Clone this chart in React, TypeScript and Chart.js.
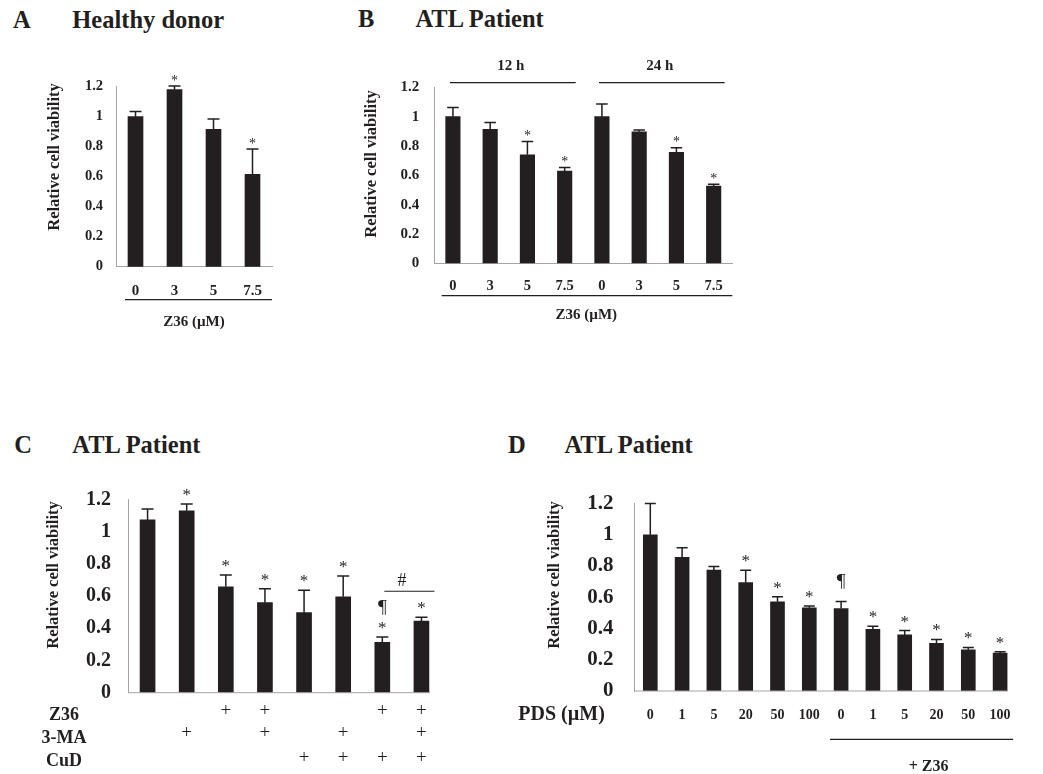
import React, { useEffect, useRef } from "react";
import { Chart, registerables } from "chart.js";

Chart.register(...registerables);

const SERIF = "'Liberation Serif', 'Times New Roman', serif";
const INK = "#231f20";
const AXIS_GRAY = "#a3a3a3";

const yTickLabels = ["0", "0.2", "0.4", "0.6", "0.8", "1", "1.2"];
const yTitleText = "Relative cell viability";
const doseTitle = "Z36 (µM)";

// Panel A — healthy donor
const aDoses = ["0", "3", "5", "7.5"];
const aViability = [1.0, 1.18, 0.915, 0.615];
const aSD = [0.035, 0.025, 0.07, 0.17];
const aSignif = ["", "*", "", "*"];

// Panel B — ATL patient, 12 h / 24 h
const bDoses = ["0", "3", "5", "7.5", "0", "3", "5", "7.5"];
const bViability = [1.0, 0.913, 0.74, 0.629, 1.0, 0.897, 0.757, 0.527];
const bSD = [0.063, 0.047, 0.09, 0.025, 0.086, 0.012, 0.031, 0.012];
const bSignif = ["", "", "*", "*", "", "", "*", "*"];
const bTimeLabels = ["12 h", "24 h"];
const bTimeFirst = [0, 4];
const bTimeLast = [3, 7];

// Panel C — ATL patient, inhibitor combinations
const cConditions = ["ctrl", "3-MA", "Z36", "Z36+3-MA", "CuD", "3-MA+CuD", "Z36+CuD", "Z36+3-MA+CuD"];
const cViability = [1.073, 1.13, 0.658, 0.559, 0.497, 0.596, 0.313, 0.445];
const cSD = [0.068, 0.042, 0.073, 0.087, 0.139, 0.129, 0.033, 0.023];
const cSignif = ["", "*", "*", "*", "*", "*", "*¶", "*"];
const cRowNames = ["Z36", "3-MA", "CuD"];
const cRowZ36 = ["", "", "+", "+", "", "", "+", "+"];
const cRow3MA = ["", "+", "", "+", "", "+", "", "+"];
const cRowCuD = ["", "", "", "", "+", "+", "+", "+"];
const cHashLabel = "#";
const cHashPair = [6, 7];
const cHashLevel = 0.63;

// Panel D — ATL patient, PDS dose with / without Z36
const dPDS = ["0", "1", "5", "20", "50", "100", "0", "1", "5", "20", "50", "100"];
const dViability = [1.0, 0.856, 0.774, 0.695, 0.571, 0.533, 0.528, 0.395, 0.359, 0.306, 0.264, 0.243];
const dSD = [0.2, 0.062, 0.023, 0.079, 0.033, 0.012, 0.045, 0.019, 0.028, 0.024, 0.015, 0.009];
const dSignif = ["", "", "", "*", "*", "*", "¶", "*", "*", "*", "*", "*"];
const dAxisName = "PDS (µM)";
const dGroupLabel = "+ Z36";
const dGroupFirst = 6;
const dGroupLast = 11;

type Box = { x: number; y: number; w: number; h: number };
type Area = { left: number; top: number; right: number; bottom: number };
type Helpers = { xAt: (i: number) => number; yAt: (v: number) => number; a: any };

type PanelCfg = {
  box: Box;
  area: Area;
  labels: string[];
  values: number[];
  sd: number[];
  signif: string[];
  barThickness: number;
  yTickSize: number;
  yTickPad: number;
  xTicks: boolean;
  xTickSize: number;
  xTickPad: number;
  xBorder: boolean;
  yTitle: { x: number; y: number; size: number };
  markSize: number;
  markGap: number;
  markStep: number;
  extra?: (ctx: CanvasRenderingContext2D, h: Helpers, cfg: PanelCfg) => void;
};

const font = (size: number, weight = "bold") => `${weight} ${size}px ${SERIF}`;

function text(
  ctx: CanvasRenderingContext2D,
  s: string,
  x: number,
  y: number,
  f: string,
  align: CanvasTextAlign = "center",
  baseline: CanvasTextBaseline = "middle"
) {
  ctx.font = f;
  ctx.fillStyle = INK;
  ctx.textAlign = align;
  ctx.textBaseline = baseline;
  ctx.fillText(s, x, y);
}

function line(ctx: CanvasRenderingContext2D, x1: number, y1: number, x2: number, y2: number, color = INK, w = 1.2) {
  ctx.beginPath();
  ctx.strokeStyle = color;
  ctx.lineWidth = w;
  ctx.moveTo(x1, y1);
  ctx.lineTo(x2, y2);
  ctx.stroke();
}

const symCenter: Record<string, number> = { "*": 0.47, "¶": 0.24, "#": 0.34, "+": 0.25 };
const symScale: Record<string, number> = { "*": 1, "¶": 1.15, "#": 1.05, "+": 1 };

function symbol(ctx: CanvasRenderingContext2D, s: string, cx: number, cy: number, size: number) {
  const sz = size * (symScale[s] ?? 1);
  ctx.font = font(sz, "normal");
  ctx.fillStyle = INK;
  ctx.textAlign = "center";
  ctx.textBaseline = "alphabetic";
  ctx.fillText(s, cx, cy + (symCenter[s] ?? 0.35) * sz);
}

function PanelChart({ cfg }: { cfg: PanelCfg }) {
  const ref = useRef<HTMLCanvasElement>(null);
  useEffect(() => {
    const canvas = ref.current;
    if (!canvas) return;
    const { box, area } = cfg;
    const yAxisWidth = area.left - box.x;
    const xAxisHeight = box.y + box.h - area.bottom;
    const padTop = area.top - box.y;
    const padRight = box.x + box.w - area.right;

    const overlay = {
      id: "overlay",
      afterDraw(chart: any) {
        const ctx: CanvasRenderingContext2D = chart.ctx;
        const xs = chart.scales.x;
        const ys = chart.scales.y;
        const h: Helpers = {
          xAt: (i) => xs.getPixelForValue(i),
          yAt: (v) => ys.getPixelForValue(v),
          a: chart.chartArea,
        };
        ctx.save();
        const cap = cfg.barThickness - 3;
        cfg.values.forEach((v, i) => {
          const x = h.xAt(i);
          const y0 = h.yAt(v);
          const y1 = h.yAt(v + cfg.sd[i]);
          ctx.beginPath();
          ctx.strokeStyle = INK;
          ctx.lineWidth = 1.5;
          ctx.moveTo(x, y0);
          ctx.lineTo(x, y1);
          ctx.moveTo(x - cap / 2, y1);
          ctx.lineTo(x + cap / 2, y1);
          ctx.stroke();
          const syms = Array.from(cfg.signif[i]);
          let cy = y1 - cfg.markGap;
          syms.forEach((s, k) => {
            if (k === 0 && s === "¶") cy -= 7;
            symbol(ctx, s, x, cy, cfg.markSize);
            cy -= cfg.markStep;
          });
        });
        // y axis title
        ctx.save();
        ctx.translate(cfg.yTitle.x - box.x, cfg.yTitle.y - box.y);
        ctx.rotate(-Math.PI / 2);
        text(ctx, yTitleText, 0, 0, font(cfg.yTitle.size));
        ctx.restore();
        if (cfg.extra) cfg.extra(ctx, h, cfg);
        ctx.restore();
      },
    };

    const chart = new Chart(canvas, {
      type: "bar",
      data: {
        labels: cfg.labels,
        datasets: [
          {
            data: cfg.values,
            backgroundColor: INK,
            borderWidth: 0,
            barThickness: cfg.barThickness,
          },
        ],
      },
      options: {
        animation: false,
        responsive: false,
        maintainAspectRatio: false,
        layout: { padding: { left: 0, top: padTop, right: padRight, bottom: 0 } },
        plugins: {
          legend: { display: false },
          tooltip: { enabled: false },
          title: { display: false },
        },
        scales: {
          x: {
            type: "category",
            offset: true,
            grid: { display: false, drawTicks: false },
            border: { display: cfg.xBorder, color: AXIS_GRAY, width: 1 },
            ticks: {
              display: cfg.xTicks,
              color: INK,
              font: { family: SERIF, size: cfg.xTickSize, weight: "bold" },
              padding: cfg.xTickPad,
              maxRotation: 0,
              minRotation: 0,
              autoSkip: false,
            },
            afterFit: (s: any) => {
              s.height = xAxisHeight;
            },
          },
          y: {
            min: 0,
            max: 1.2,
            grid: { display: false, drawTicks: false },
            border: { display: true, color: AXIS_GRAY, width: 1 },
            ticks: {
              stepSize: 0.2,
              padding: cfg.yTickPad,
              color: INK,
              font: { family: SERIF, size: cfg.yTickSize, weight: "bold" },
              callback: (_v: any, i: number) => yTickLabels[i],
            },
            afterFit: (s: any) => {
              s.width = yAxisWidth;
            },
          },
        },
      } as any,
      plugins: [overlay],
    });
    return () => chart.destroy();
  }, [cfg]);
  return (
    <canvas
      ref={ref}
      width={cfg.box.w}
      height={cfg.box.h}
      style={{ position: "absolute", left: cfg.box.x, top: cfg.box.y, width: cfg.box.w, height: cfg.box.h }}
    />
  );
}

const panelA: PanelCfg = {
  box: { x: 0, y: 40, w: 330, h: 305 },
  area: { left: 116, top: 86.7, right: 272, bottom: 266.7 },
  labels: aDoses,
  values: aViability,
  sd: aSD,
  signif: aSignif,
  barThickness: 15,
  yTickSize: 14.5,
  yTickPad: 13,
  xTicks: true,
  xTickSize: 15,
  xTickPad: 15,
  xBorder: true,
  yTitle: { x: 55, y: 157, size: 16.5 },
  markSize: 14,
  markGap: 8,
  markStep: 15,
  extra: (ctx, h) => {
    const a = h.a;
    line(ctx, a.left + 9, a.bottom + 33, a.right, a.bottom + 33, INK, 1.2);
    text(ctx, doseTitle, (a.left + a.right) / 2, a.bottom + 55, font(15));
  },
};

const panelB: PanelCfg = {
  box: { x: 330, y: 40, w: 420, h: 305 },
  area: { left: 434.3, top: 87.3, right: 732.3, bottom: 263.3 },
  labels: bDoses,
  values: bViability,
  sd: bSD,
  signif: bSignif,
  barThickness: 14.5,
  yTickSize: 15,
  yTickPad: 15,
  xTicks: true,
  xTickSize: 14.5,
  xTickPad: 14,
  xBorder: true,
  yTitle: { x: 371.7, y: 164, size: 16.5 },
  markSize: 14,
  markGap: 8,
  markStep: 15,
  extra: (ctx, h) => {
    const a = h.a;
    bTimeLabels.forEach((lab, g) => {
      const x1 = h.xAt(bTimeFirst[g]);
      const x2 = h.xAt(bTimeLast[g]);
      line(ctx, x1 - 3, a.top - 4.6, x2 + 11, a.top - 4.6, INK, 1.2);
      text(ctx, lab, (x1 + x2) / 2 + 2, a.top - 21.5, font(15));
    });
    line(ctx, a.left + 7.4, a.bottom + 32.4, a.right, a.bottom + 32.4, INK, 1.2);
    text(ctx, doseTitle, (a.left + a.right) / 2 + 3, a.bottom + 51.7, font(15));
  },
};

const panelC: PanelCfg = {
  box: { x: 0, y: 470, w: 500, h: 304 },
  area: { left: 128, top: 499.5, right: 441, bottom: 692.7 },
  labels: cConditions,
  values: cViability,
  sd: cSD,
  signif: cSignif,
  barThickness: 15,
  yTickSize: 20,
  yTickPad: 17,
  xTicks: false,
  xTickSize: 14,
  xTickPad: 10,
  xBorder: false,
  yTitle: { x: 53.3, y: 575, size: 16.5 },
  markSize: 17,
  markGap: 12,
  markStep: 17,
  extra: (ctx, h) => {
    const a = h.a;
    const last = cConditions.length - 1;
    line(ctx, a.left, a.bottom, h.xAt(last) + 15 / 2 + 1, a.bottom, AXIS_GRAY, 1);
    // treatment rows
    const rows = [cRowZ36, cRow3MA, cRowCuD];
    const labelDy = [22.3, 45.6, 69];
    const plusDy = [19, 40.6, 65.6];
    rows.forEach((row, r) => {
      text(ctx, cRowNames[r], 64, a.bottom + labelDy[r], font(18));
      row.forEach((s, i) => {
        if (s) symbol(ctx, s, h.xAt(i), a.bottom + plusDy[r], 19);
      });
    });
    // # bracket
    const xa = h.xAt(cHashPair[0]);
    const xb = h.xAt(cHashPair[1]);
    const ly = h.yAt(cHashLevel);
    line(ctx, xa + 2, ly, xb + 13, ly, INK, 1.2);
    symbol(ctx, cHashLabel, (xa + xb) / 2, ly - 11.7, 17);
  },
};

const panelD: PanelCfg = {
  box: { x: 500, y: 470, w: 543, h: 304 },
  area: { left: 634.4, top: 501.8, right: 1016, bottom: 691 },
  labels: dPDS,
  values: dViability,
  sd: dSD,
  signif: dSignif,
  barThickness: 14,
  yTickSize: 21,
  yTickPad: 21,
  xTicks: true,
  xTickSize: 14,
  xTickPad: 15.5,
  xBorder: false,
  yTitle: { x: 555, y: 575, size: 16.5 },
  markSize: 17,
  markGap: 12,
  markStep: 17,
  extra: (ctx, h, cfg) => {
    const a = h.a;
    const last = dPDS.length - 1;
    line(ctx, a.left, a.bottom, h.xAt(last) + 14 / 2 + 1, a.bottom, AXIS_GRAY, 1);
    text(ctx, dAxisName, 518.3 - cfg.box.x, a.bottom + 24, font(20), "left");
    const x1 = h.xAt(dGroupFirst);
    const x2 = h.xAt(dGroupLast);
    line(ctx, x1 - 11, a.bottom + 48.3, x2 + 13, a.bottom + 48.3, INK, 1.2);
    text(ctx, dGroupLabel, (x1 + x2) / 2 + 8, a.bottom + 75.7, font(16));
  },
};

const headers = [
  { letter: "A", title: "Healthy donor", lx: 13, tx: 72.3, top: 7.5 },
  { letter: "B", title: "ATL Patient", lx: 358, tx: 415.5, top: 7 },
  { letter: "C", title: "ATL Patient", lx: 14.3, tx: 72.3, top: 432.8 },
  { letter: "D", title: "ATL Patient", lx: 508, tx: 564.5, top: 432.8 },
];

export default function App() {
  const hStyle: React.CSSProperties = {
    position: "absolute",
    fontFamily: SERIF,
    fontWeight: "bold",
    fontSize: 24.5,
    lineHeight: "24.5px",
    color: INK,
    whiteSpace: "nowrap",
  };
  return (
    <div style={{ position: "absolute", left: 0, top: 0, width: 1043, height: 774, background: "#ffffff", overflow: "hidden" }}>
      {headers.map((hd) => (
        <React.Fragment key={hd.letter}>
          <span style={{ ...hStyle, left: hd.lx, top: hd.top }}>{hd.letter}</span>
          <span style={{ ...hStyle, left: hd.tx, top: hd.top }}>{hd.title}</span>
        </React.Fragment>
      ))}
      <PanelChart cfg={panelA} />
      <PanelChart cfg={panelB} />
      <PanelChart cfg={panelC} />
      <PanelChart cfg={panelD} />
    </div>
  );
}
